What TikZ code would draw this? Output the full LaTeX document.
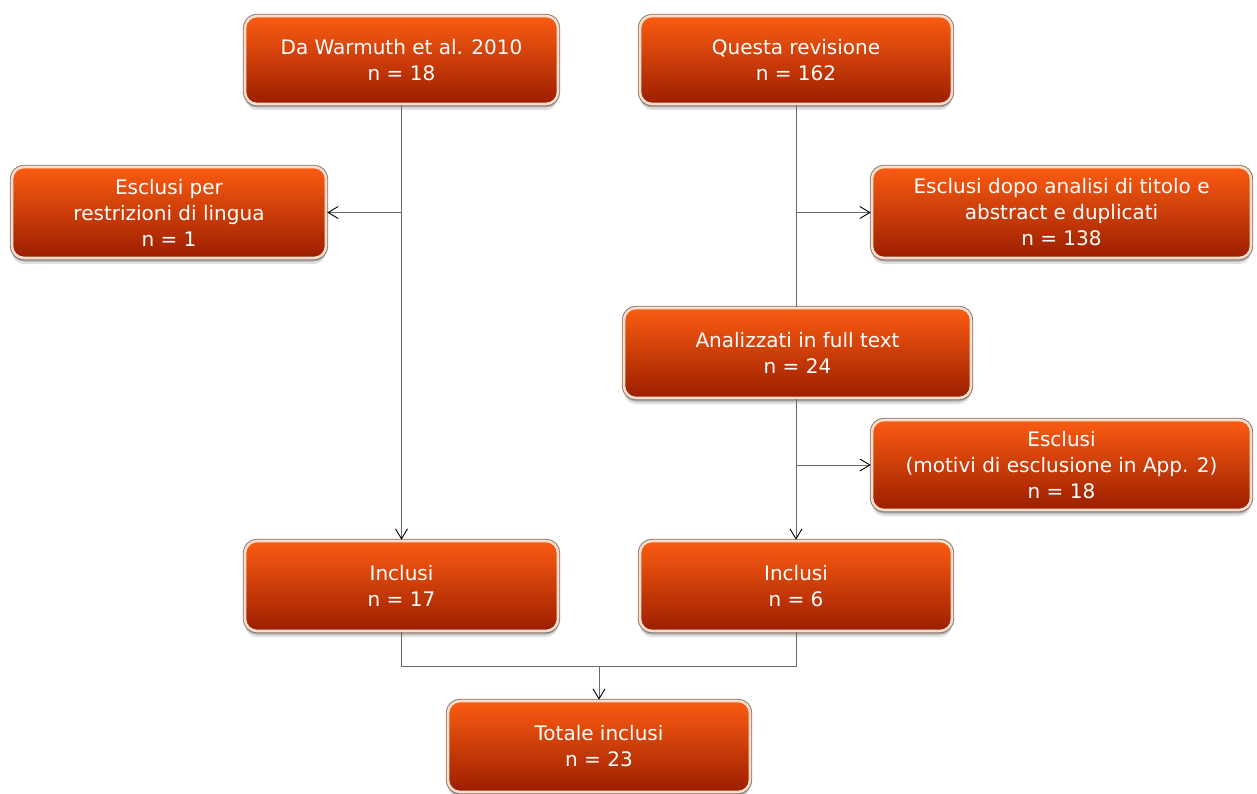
\documentclass[tikz,border=0pt]{standalone}
\usepackage{fontspec}
\setmainfont{DejaVu Sans}
\usetikzlibrary{arrows.meta,shadows,calc}
\definecolor{ctop}{RGB}{251,92,18}
\definecolor{cmid}{RGB}{230,66,2}
\definecolor{cbot}{RGB}{155,30,0}
\definecolor{rim}{RGB}{248,222,205}
\definecolor{edge}{RGB}{135,112,104}
\definecolor{linec}{RGB}{105,105,105}
\tikzset{
  box/.style={rectangle, rounded corners=12pt, draw=rim, line width=2.6pt,
    top color=ctop, middle color=cmid, bottom color=cbot,
    text=white, align=center, inner sep=0pt,
    font=\fontsize{20}{26}\selectfont,
    drop shadow={shadow xshift=0pt, shadow yshift=-6pt, opacity=0.12, fill=black},
    drop shadow={shadow xshift=0pt, shadow yshift=-3.5pt, opacity=0.25, fill=black},
    preaction={draw=edge, line width=4.4pt}},
  conn/.style={draw=linec, line width=0.9pt},
  arr/.style={conn, -{Straight Barb[length=10pt,width=12pt,color=black]}}
}
\begin{document}
\begin{tikzpicture}[x=1pt,y=-1pt]
\useasboundingbox (0,0) rectangle (1257,794);
\node[box, minimum width=313pt, minimum height=88pt] (A) at (401.5,60) {Da Warmuth et al. 2010\\n = 18};
\node[box, minimum width=312pt, minimum height=88pt] (B) at (796,60) {Questa revisione\\n = 162};
\node[box, minimum width=314pt, minimum height=91pt] (C) at (169,212.5) {Esclusi per\\restrizioni di lingua\\n = 1};
\node[box, minimum width=379pt, minimum height=91pt] (D) at (1061.5,212.5) {Esclusi dopo analisi di titolo e\\abstract e duplicati\\n = 138};
\node[box, minimum width=347pt, minimum height=90pt] (E) at (797.5,353) {Analizzati in full text\\n = 24};
\node[box, minimum width=379pt, minimum height=90pt] (F) at (1061.5,465) {Esclusi\\(motivi di esclusione in App. 2)\\n = 18};
\node[box, minimum width=313pt, minimum height=90pt] (G) at (401.5,586) {Inclusi\\n = 17};
\node[box, minimum width=312pt, minimum height=90pt] (H) at (796,586) {Inclusi\\n = 6};
\node[box, minimum width=302pt, minimum height=91pt] (I) at (599,746.5) {Totale inclusi\\n = 23};

\draw[arr] (A.south) -- (G.north);
\draw[arr] (A.south |- C.east) -- (C.east);
\draw[conn] (B.south) -- (B.south |- E.north);
\draw[arr] (B.south |- D.west) -- (D.west);
\draw[arr] (H.north |- E.south) -- (H.north);
\draw[arr] (H.north |- F.west) -- (F.west);
\coordinate (M) at ($(G.south)+(0,34)$);
\draw[conn] (G.south) -- (M) -| (H.south);
\draw[arr] (M -| I.north) -- (I.north);
\end{tikzpicture}
\end{document}
